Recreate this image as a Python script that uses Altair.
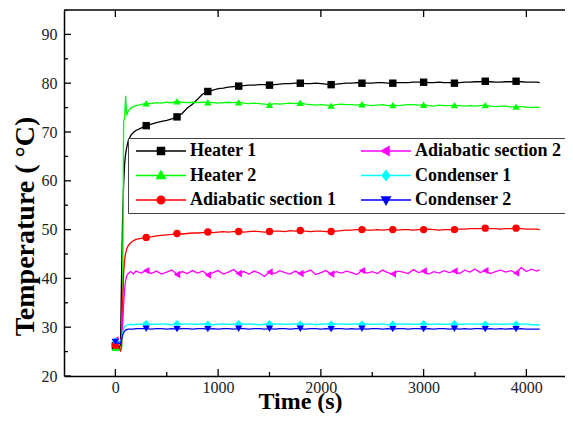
import altair as alt
import pandas as pd

SERIES = ["Heater 1", "Heater 2", "Adiabatic section 1", "Adiabatic section 2", "Condenser 1", "Condenser 2"]
COLORS = ["#000000", "#00ff00", "#ff0000", "#ff00ff", "#00ffff", "#0000ff"]
MARKERS = ["square", "triangle-up", "circle", "triangle-left", "diamond", "triangle-down"]
# legend symbol = short line with the marker in its middle (unit = 5 px)
LEGEND_PATHS = {
    "Heater 1": "M-1,0H9M3.3,-0.7H4.7V0.7H3.3Z",
    "Heater 2": "M-1,0H9M4,-0.9L4.85,0.6L3.15,0.6Z",
    "Adiabatic section 1": "M-1,0H9M4.75,0A0.75,0.75,0,1,1,3.25,0A0.75,0.75,0,1,1,4.75,0Z",
    "Adiabatic section 2": "M-1,0H9M3.1,0L4.6,-0.85L4.6,0.85Z",
    "Condenser 1": "M-1,0H9M4,-0.95L4.75,0L4,0.95L3.25,0Z",
    "Condenser 2": "M-1,0H9M4,0.9L4.85,-0.6L3.15,-0.6Z",
}

TIME_EARLY = [0, 20, 40, 50, 60, 70, 80, 90, 100, 110, 125, 150, 175, 200, 250]
TIME_LATE = list(range(300, 4101, 50))
TIME_END = [4130]
TIME = TIME_EARLY + TIME_LATE + TIME_END

HEATER_1 = [
    26.2, 26.0, 25.8, 26.5, 40.0, 52.0, 59.0, 63.5, 65.5, 66.8, 68.2, 69.3, 69.9, 70.3, 70.8,
    71.3, 71.6, 71.9, 72.2, 72.4, 72.7, 73.1, 73.8, 74.9, 75.7,
    76.7, 77.8, 78.3, 78.6, 78.9, 79.0, 79.2, 79.3, 79.4, 79.5,
    79.6, 79.6, 79.7, 79.7, 79.6, 79.7, 79.8, 79.9, 79.9, 80.0,
    80.0, 79.9, 79.9, 80.0, 79.9, 79.8, 79.7, 79.8, 79.9, 80.0,
    80.0, 80.1, 80.0, 80.0, 80.0, 80.1, 80.1, 80.0, 80.0, 80.1,
    80.1, 80.1, 80.2, 80.2, 80.2, 80.1, 80.1, 80.2, 80.1, 80.1,
    80.0, 80.1, 80.2, 80.2, 80.3, 80.3, 80.4, 80.3, 80.2, 80.2,
    80.3, 80.3, 80.4, 80.3, 80.2, 80.2, 80.2,
    80.1,
]
HEATER_2 = [
    25.8, 25.6, 25.4, 25.3, 25.6, 30.0, 72.0, 73.0, 77.4, 73.4, 74.3, 74.9, 75.2, 75.4, 75.6,
    75.9, 75.8, 76.0, 75.9, 76.1, 76.0, 76.3, 76.1, 76.0, 76.1,
    76.0, 76.1, 76.1, 76.0, 75.9, 76.0, 76.1, 76.0, 76.1, 75.9,
    75.8, 75.9, 75.8, 75.7, 75.6, 75.8, 75.7, 75.8, 75.9, 75.8,
    76.0, 75.7, 75.6, 75.5, 75.6, 75.5, 75.4, 75.6, 75.7, 75.6,
    75.6, 75.5, 75.7, 75.5, 75.4, 75.5, 75.6, 75.4, 75.5, 75.4,
    75.5, 75.6, 75.6, 75.5, 75.6, 75.4, 75.3, 75.5, 75.4, 75.4,
    75.5, 75.4, 75.3, 75.4, 75.3, 75.4, 75.5, 75.3, 75.2, 75.3,
    75.3, 75.1, 75.2, 75.2, 75.1, 75.0, 75.1,
    75.0,
]
ADIABATIC_1 = [
    26.3, 26.0, 25.6, 25.2, 26.0, 34.0, 41.0, 43.8, 45.2, 46.0, 46.7, 47.3, 47.7, 48.0, 48.2,
    48.4, 48.5, 48.7, 48.8, 48.9, 49.0, 49.2, 49.1, 49.2, 49.3,
    49.3, 49.4, 49.5, 49.4, 49.5, 49.6, 49.5, 49.6, 49.6, 49.5,
    49.6, 49.7, 49.6, 49.5, 49.6, 49.7, 49.7, 49.6, 49.8, 49.7,
    49.8, 49.7, 49.6, 49.7, 49.7, 49.6, 49.6, 49.7, 49.8, 49.9,
    49.9, 50.0, 50.0, 49.9, 49.9, 50.0, 49.9, 50.0, 50.0, 49.9,
    50.0, 50.0, 49.9, 50.0, 50.0, 50.1, 50.0, 49.9, 50.0, 50.0,
    50.0, 50.1, 50.1, 50.2, 50.2, 50.2, 50.3, 50.2, 50.2, 50.1,
    50.2, 50.2, 50.3, 50.2, 50.1, 50.1, 50.1,
    50.0,
]
ADIABATIC_2 = [
    27.4, 27.2, 27.0, 27.1, 27.8, 30.5, 34.5, 37.8, 39.6, 40.5, 41.0, 41.4, 40.9, 41.5, 41.1,
    41.6, 41.0, 41.5, 40.9, 41.3, 41.7, 40.8, 41.4, 41.0, 41.6,
    41.1, 41.5, 40.7, 41.2, 41.6, 40.9, 41.3, 41.8, 41.0, 41.4,
    40.9, 41.5, 41.1, 40.4, 41.3, 41.0, 41.6, 41.2, 40.9, 41.5,
    41.0, 41.3, 41.7, 40.8, 41.2, 41.6, 40.9, 41.4, 41.1, 41.5,
    41.2, 40.8, 41.6, 41.1, 41.4, 41.0, 41.7, 41.2, 40.9, 41.5,
    41.3, 41.0, 41.8, 41.2, 41.5, 40.9, 41.4, 41.1, 41.6, 41.2,
    41.5, 41.0, 41.7, 41.3, 41.9, 41.2, 41.6, 41.0, 41.4, 41.7,
    41.3, 41.6, 41.1, 42.2, 41.4, 41.9, 41.5,
    41.8,
]
CONDENSER_1 = [
    27.2, 27.0, 26.9, 27.0, 27.6, 28.8, 29.7, 30.1, 30.3, 30.4, 30.5, 30.6, 30.5, 30.6, 30.6,
    30.7, 30.6, 30.6, 30.7, 30.6, 30.5, 30.7, 30.6, 30.7, 30.6,
    30.6, 30.7, 30.6, 30.5, 30.6, 30.7, 30.6, 30.6, 30.7, 30.6,
    30.7, 30.6, 30.5, 30.6, 30.7, 30.6, 30.7, 30.6, 30.6, 30.7,
    30.6, 30.6, 30.7, 30.5, 30.6, 30.7, 30.6, 30.6, 30.7, 30.6,
    30.6, 30.7, 30.6, 30.7, 30.6, 30.6, 30.7, 30.5, 30.6, 30.7,
    30.6, 30.7, 30.6, 30.6, 30.7, 30.6, 30.6, 30.7, 30.6, 30.6,
    30.7, 30.6, 30.6, 30.7, 30.6, 30.7, 30.6, 30.6, 30.7, 30.6,
    30.6, 30.7, 30.6, 30.6, 30.7, 30.5, 30.5,
    30.4,
]
CONDENSER_2 = [
    27.0, 26.8, 26.7, 26.8, 27.4, 28.3, 28.9, 29.2, 29.4, 29.5, 29.6, 29.6, 29.6, 29.7, 29.7,
    29.7, 29.6, 29.7, 29.7, 29.6, 29.7, 29.6, 29.7, 29.7, 29.6,
    29.7, 29.7, 29.6, 29.7, 29.6, 29.7, 29.7, 29.6, 29.7, 29.7,
    29.6, 29.7, 29.7, 29.6, 29.7, 29.6, 29.7, 29.7, 29.6, 29.7,
    29.7, 29.6, 29.7, 29.7, 29.6, 29.7, 29.6, 29.7, 29.7, 29.6,
    29.7, 29.6, 29.7, 29.6, 29.7, 29.7, 29.6, 29.7, 29.6, 29.7,
    29.7, 29.6, 29.7, 29.7, 29.6, 29.7, 29.6, 29.7, 29.7, 29.6,
    29.7, 29.6, 29.7, 29.6, 29.7, 29.7, 29.6, 29.7, 29.6, 29.7,
    29.6, 29.7, 29.6, 29.7, 29.6, 29.6, 29.6,
    29.6,
]
VALUES = [HEATER_1, HEATER_2, ADIABATIC_1, ADIABATIC_2, CONDENSER_1, CONDENSER_2]
MARKER_EVERY = 300

X_LABELS = [0, 1000, 2000, 3000, 4000]
X_MINOR = [-500, 500, 1500, 2500, 3500]
Y_LABELS = [20, 30, 40, 50, 60, 70, 80, 90]
Y_MINOR = [25, 35, 45, 55, 65, 75, 85, 95]
X_DOMAIN = [-500, 4376]
Y_DOMAIN = [20, 95]

for v in VALUES:
    assert len(v) == len(TIME), len(v)

rows = []
for name, vals in zip(SERIES, VALUES):
    for t, v in zip(TIME, vals):
        rows.append({"t": t, "temp": v, "series": name})
df = pd.DataFrame(rows)
df["marker"] = (df["t"] % MARKER_EVERY == 0) & (df["t"] <= 3900)

FONT = "Liberation Serif"

x_enc = alt.X(
    "t:Q",
    scale=alt.Scale(domain=X_DOMAIN, nice=False, zero=False),
    axis=alt.Axis(
        values=X_LABELS, format="d", title="Time (s)", grid=False, ticks=False,
        domain=True, domainColor="black", domainWidth=1.5,
        labelFont=FONT, labelFontSize=16, labelColor="#222222", labelPadding=3,
        labelFlush=False, labelOverlap=False,
        titleFont=FONT, titleFontSize=24, titleFontWeight="bold", titleColor="black",
        titleX=236, titleY=32, titleBaseline="alphabetic", titleAlign="center",
    ),
)
y_enc = alt.Y(
    "temp:Q",
    scale=alt.Scale(domain=Y_DOMAIN, nice=False, zero=False),
    axis=alt.Axis(
        values=Y_LABELS, format="d", title="Temperature ( °C)", grid=False, ticks=False,
        domain=True, domainColor="black", domainWidth=1.5,
        labelFont=FONT, labelFontSize=16, labelColor="#222222", labelPadding=7,
        labelFlush=False, labelOverlap=False,
        titleFont=FONT, titleFontSize=28, titleFontWeight="bold", titleColor="black",
        titleX=-39, titleY=216, titleBaseline="middle", titleAlign="center", titleAngle=270,
    ),
)

layers = []
for name, color, marker in zip(SERIES, COLORS, MARKERS):
    base = alt.Chart(df).transform_filter(alt.datum.series == name)
    layers.append(base.mark_line(color=color, strokeWidth=1.3, clip=True).encode(x=x_enc, y=y_enc))
    layers.append(
        base.transform_filter(alt.datum.marker == True)
        .mark_point(shape=marker, filled=True, size=55, color=color, opacity=1, clip=True)
        .encode(x=x_enc, y=y_enc)
    )

# top frame line
layers.append(
    alt.Chart(pd.DataFrame({"temp": [Y_DOMAIN[1]]}))
    .mark_rule(color="black", strokeWidth=1.5)
    .encode(y=y_enc)
)

# inward tick marks (half of each tick is clipped by the plot frame)
def tick_layer(xs, ys, orient, length):
    d = pd.DataFrame({"t": xs, "temp": ys})
    return alt.Chart(d).mark_tick(
        orient=orient, size=2 * length, thickness=1.3, color="black", opacity=1, clip=True
    ).encode(x=x_enc, y=y_enc)

layers.append(tick_layer(X_LABELS, [Y_DOMAIN[0]] * len(X_LABELS), "vertical", 7))
layers.append(tick_layer(X_MINOR, [Y_DOMAIN[0]] * len(X_MINOR), "vertical", 4))
layers.append(tick_layer(X_LABELS, [Y_DOMAIN[1]] * len(X_LABELS), "vertical", 7))
layers.append(tick_layer([X_DOMAIN[0]] * len(Y_LABELS), Y_LABELS, "horizontal", 7))
layers.append(tick_layer([X_DOMAIN[0]] * len(Y_MINOR), Y_MINOR, "horizontal", 4))

# legend carrier (points placed outside the plotted range, clipped away)
leg_df = pd.DataFrame({"t": [-3000] * len(SERIES), "temp": [50] * len(SERIES), "series": SERIES})
legend = alt.Legend(
    title=None, orient="none", legendX=64, legendY=128, columns=2,
    labelFont=FONT, labelFontSize=18, labelFontWeight="bold", labelColor="black",
    labelOffset=40, labelLimit=400, columnPadding=21, rowPadding=6.5, padding=4,
    strokeColor="#444444", fillColor="white", symbolSize=100,
    symbolStrokeWidth=1.5, symbolOpacity=1,
)
legend_layer = alt.Chart(leg_df).mark_point(filled=True, size=100, strokeWidth=1.5, opacity=1, clip=True).encode(
    x=x_enc, y=y_enc,
    fill=alt.Fill("series:N", scale=alt.Scale(domain=SERIES, range=COLORS), legend=legend),
    stroke=alt.Stroke("series:N", scale=alt.Scale(domain=SERIES, range=COLORS), legend=legend),
    shape=alt.Shape("series:N", scale=alt.Scale(domain=SERIES, range=[LEGEND_PATHS[s] for s in SERIES]), legend=legend),
)
layers.append(legend_layer)

chart = alt.layer(*layers).properties(
    width=501, height=366,
    autosize=alt.AutoSizeParams(type="none"),
    padding={"left": 56, "top": 2, "right": 0, "bottom": 37},
    background="white",
).configure_view(stroke=None).configure_axis(labelFont=FONT, titleFont=FONT).configure_legend(labelFont=FONT)

chart.save("out.html", embed_options={"renderer": "svg", "actions": False})
